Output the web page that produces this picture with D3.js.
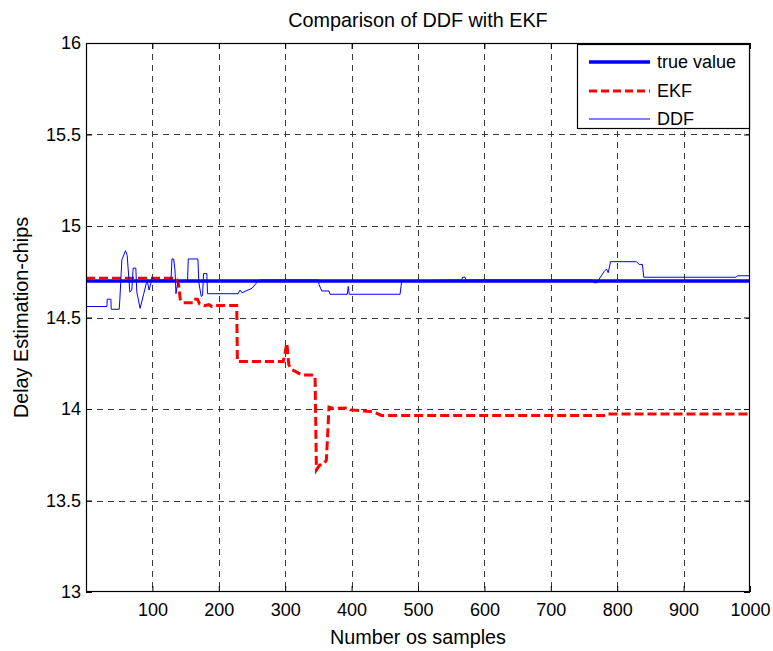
<!DOCTYPE html>
<html>
<head>
<meta charset="utf-8">
<script src="https://cdn.jsdelivr.net/npm/d3@7"></script>
<style>
  html, body { margin: 0; padding: 0; background: #fff; }
  svg { display: block; font-family: "Liberation Sans", Arial, sans-serif; }
</style>
</head>
<body>
<svg id="chart" width="773" height="651"></svg>
<script>
// ---- data ----
const titleText = "Comparison of DDF with EKF";
const xLabelText = "Number os samples";
const yLabelText = "Delay Estimation-chips";
const xDomain = [0, 1000];
const yDomain = [13, 16];
const xTicks = [100, 200, 300, 400, 500, 600, 700, 800, 900, 1000];
const yTicks = [13, 13.5, 14, 14.5, 15, 15.5, 16];
const seriesNames = ["true value", "EKF", "DDF"];

const trueX = [0, 1000];
const trueY = [14.7, 14.7];

const ekfX = [0, 136, 139, 142, 146, 163, 165, 168, 171, 178, 185, 190, 195, 227, 228, 297, 299.5, 302.5, 305.5, 310, 316, 325, 340, 345, 347, 352, 357, 362, 366, 372, 395, 398, 433, 445, 782, 784, 1000];
const ekfY = [14.714, 14.714, 14.69, 14.6, 14.58, 14.58, 14.60, 14.60, 14.575, 14.565, 14.57, 14.56, 14.565, 14.565, 14.26, 14.26, 14.30, 14.36, 14.24, 14.215, 14.204, 14.186, 14.186, 14.18, 13.667, 13.694, 13.695, 13.72, 14.01, 14.004, 14.005, 13.995, 13.985, 13.965, 13.965, 13.973, 13.973];

const ddfX = [0, 31.5, 32, 37.5, 38, 50, 51, 54, 59.5, 62, 66, 69, 71, 75, 76.5, 81.5, 87, 92, 95, 100, 104, 128, 129.5, 132, 134, 135.5, 138.5, 153, 154, 168.5, 170, 173.5, 175.5, 177, 182, 183, 229, 232, 235, 250, 257, 261, 350, 351, 355, 366, 367.5, 393.5, 395, 396.5, 473, 475.5, 566, 567, 571, 572, 763, 765, 770, 772, 780, 784, 786.5, 790, 829, 833, 838, 840, 979, 981, 1000];
const ddfY = [14.56, 14.56, 14.60, 14.60, 14.545, 14.545, 14.60, 14.815, 14.865, 14.84, 14.64, 14.65, 14.77, 14.77, 14.64, 14.55, 14.63, 14.705, 14.65, 14.72, 14.705, 14.705, 14.82, 14.82, 14.76, 14.63, 14.70, 14.70, 14.82, 14.82, 14.69, 14.615, 14.62, 14.74, 14.74, 14.63, 14.63, 14.65, 14.635, 14.66, 14.69, 14.705, 14.705, 14.68, 14.645, 14.645, 14.627, 14.627, 14.67, 14.627, 14.627, 14.70, 14.705, 14.72, 14.72, 14.705, 14.705, 14.69, 14.69, 14.705, 14.75, 14.765, 14.745, 14.805, 14.805, 14.79, 14.79, 14.72, 14.72, 14.728, 14.728];

// ---- layout ----
const svg = d3.select("#chart");
const L = 86, T = 43, R = 750, B = 592;
const x = d3.scaleLinear().domain(xDomain).range([L, R]);
const y = d3.scaleLinear().domain(yDomain).range([B, T]);
const fontSize = 18;
const labelSize = 19.8;

// grid
const grid = svg.append("g").attr("stroke", "#3a3a3a").attr("stroke-width", 1).attr("stroke-dasharray", "6,5");
grid.selectAll("line.v").data(xTicks.filter(d => d > xDomain[0] && d < xDomain[1])).enter().append("line")
  .attr("x1", d => Math.round(x(d)) + 0.5).attr("x2", d => Math.round(x(d)) + 0.5)
  .attr("y1", T).attr("y2", B);
grid.selectAll("line.h").data(yTicks.filter(d => d > yDomain[0] && d < yDomain[1])).enter().append("line")
  .attr("y1", d => Math.round(y(d)) + 0.5).attr("y2", d => Math.round(y(d)) + 0.5)
  .attr("x1", L).attr("x2", R);

// axes (inward ticks on all sides)
const tickLen = 6;
const axB = svg.append("g").attr("transform", `translate(0,${B})`)
  .call(d3.axisBottom(x).tickValues(xTicks).tickSize(-tickLen).tickPadding(11).tickFormat(d3.format("d")));
const axT = svg.append("g").attr("transform", `translate(0,${T})`)
  .call(d3.axisTop(x).tickValues(xTicks).tickSize(-tickLen).tickFormat(""));
const axL = svg.append("g").attr("transform", `translate(${L},0)`)
  .call(d3.axisLeft(y).tickValues(yTicks).tickSize(-tickLen).tickPadding(5).tickFormat(d => d3.format("")(d)));
const axR = svg.append("g").attr("transform", `translate(${R},0)`)
  .call(d3.axisRight(y).tickValues(yTicks).tickSize(-tickLen).tickFormat(""));
[axB, axT, axL, axR].forEach(a => {
  a.select(".domain").remove();
  a.selectAll("line").attr("stroke", "#000");
  a.selectAll("text").attr("font-size", fontSize).attr("font-family", "Liberation Sans, Arial, sans-serif").attr("fill", "#000");
});

// clip
svg.append("clipPath").attr("id", "clip").append("rect").attr("x", L).attr("y", T).attr("width", R - L).attr("height", B - T);
const plot = svg.append("g").attr("clip-path", "url(#clip)");

const line = d3.line().x(d => x(d[0])).y(d => y(d[1]));
const trueData = d3.zip(trueX, trueY);
const ekfData = d3.zip(ekfX, ekfY);
const ddfData = d3.zip(ddfX, ddfY);

plot.append("path").datum(trueData).attr("d", line).attr("fill", "none").attr("stroke", "#0000ff").attr("stroke-width", 3.5);
plot.append("path").datum(ekfData).attr("d", line).attr("fill", "none").attr("stroke", "#ff0000").attr("stroke-width", 3).attr("stroke-dasharray", "9,4");
plot.append("path").datum(ddfData).attr("d", line).attr("fill", "none").attr("stroke", "#0000ff").attr("stroke-width", 1);

// box
svg.append("rect").attr("x", L + 0.5).attr("y", T + 0.5).attr("width", R - L - 1).attr("height", B - T - 1)
  .attr("fill", "none").attr("stroke", "#000").attr("stroke-width", 1.2);

// legend
const lg = svg.append("g");
const lgX = 577, lgY = 44, lgW = 173, lgH = 85;
lg.append("rect").attr("x", lgX + 0.5).attr("y", lgY + 0.5).attr("width", lgW - 1).attr("height", lgH - 1)
  .attr("fill", "#fff").attr("stroke", "#000").attr("stroke-width", 1.2);
const lgStyles = [
  { color: "#0000ff", w: 3.5, dash: null },
  { color: "#ff0000", w: 3, dash: "8,4" },
  { color: "#0000ff", w: 1, dash: null }
];
const lgRows = [62, 91, 119];
seriesNames.forEach((name, i) => {
  const ln = lg.append("line").attr("x1", 589).attr("x2", 650).attr("y1", lgRows[i]).attr("y2", lgRows[i])
    .attr("stroke", lgStyles[i].color).attr("stroke-width", lgStyles[i].w);
  if (lgStyles[i].dash) ln.attr("stroke-dasharray", lgStyles[i].dash);
  lg.append("text").attr("x", 657).attr("y", lgRows[i]).attr("dy", "0.35em")
    .attr("font-size", fontSize).attr("fill", "#000").text(name);
});

// title and labels
svg.append("text").attr("x", (L + R) / 2).attr("y", 27).attr("text-anchor", "middle")
  .attr("font-size", labelSize).attr("fill", "#000").text(titleText);
svg.append("text").attr("x", (L + R) / 2).attr("y", 644).attr("text-anchor", "middle")
  .attr("font-size", labelSize).attr("fill", "#000").text(xLabelText);
svg.append("text").attr("transform", `translate(28,${(T + B) / 2}) rotate(-90)`).attr("text-anchor", "middle")
  .attr("font-size", labelSize).attr("fill", "#000").text(yLabelText);
</script>
</body>
</html>
